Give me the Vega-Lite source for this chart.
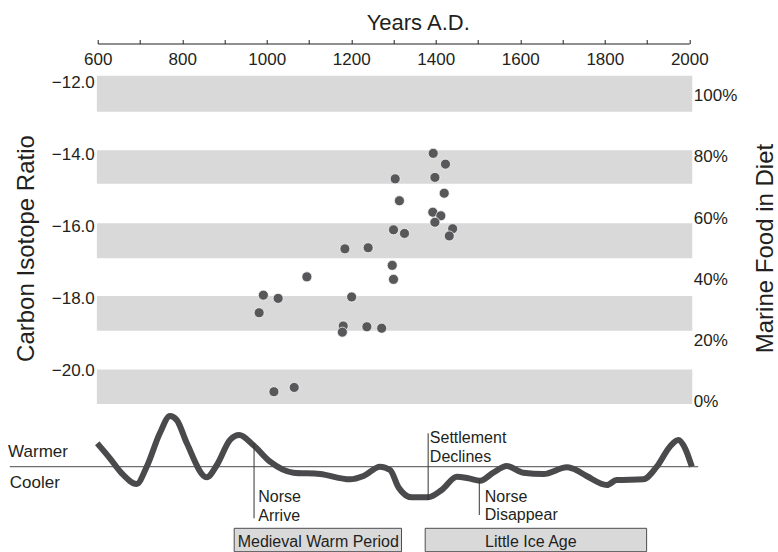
{
  "$schema": "https://vega.github.io/schema/vega-lite/v6.json",
  "width": 591.6,
  "height": 508.5,
  "autosize": {"type": "none"},
  "padding": {"left": 97.7, "top": 43.5, "right": 88.7, "bottom": 0},
  "background": "white",
  "config": {
    "view": {"stroke": null},
    "font": "Liberation Sans",
    "axis": {"labelFont": "Liberation Sans", "titleFont": "Liberation Sans", "labelColor": "#231f20", "titleColor": "#231f20", "titleFontWeight": "normal", "grid": false}
  },
  "datasets": {
    "bands": [
      {"year": 598, "year2": 2007, "top": -11.8, "bottom": -12.8},
      {"year": 598, "year2": 2007, "top": -13.87, "bottom": -14.81},
      {"year": 598, "year2": 2007, "top": -15.91, "bottom": -16.88},
      {"year": 598, "year2": 2007, "top": -17.93, "bottom": -18.9},
      {"year": 598, "year2": 2007, "top": -19.98, "bottom": -20.94}
    ],
    "samples": [
      {"year": 1394, "ratio": -13.96}, {"year": 1423, "ratio": -14.26}, {"year": 1304, "ratio": -14.67},
      {"year": 1398, "ratio": -14.63}, {"year": 1420, "ratio": -15.07}, {"year": 1314, "ratio": -15.28},
      {"year": 1393, "ratio": -15.6}, {"year": 1412, "ratio": -15.7}, {"year": 1398, "ratio": -15.88},
      {"year": 1300, "ratio": -16.09}, {"year": 1326, "ratio": -16.19}, {"year": 1440, "ratio": -16.06},
      {"year": 1432, "ratio": -16.26}, {"year": 1185, "ratio": -16.62}, {"year": 1240, "ratio": -16.59},
      {"year": 1297, "ratio": -17.08}, {"year": 1300, "ratio": -17.47}, {"year": 1095, "ratio": -17.4},
      {"year": 992, "ratio": -17.91}, {"year": 1027, "ratio": -18.0}, {"year": 1201, "ratio": -17.96},
      {"year": 982, "ratio": -18.4}, {"year": 1181, "ratio": -18.77}, {"year": 1179, "ratio": -18.94},
      {"year": 1237, "ratio": -18.79}, {"year": 1272, "ratio": -18.83}, {"year": 1017, "ratio": -20.6},
      {"year": 1065, "ratio": -20.48}
    ],
    "pct": [{"year": 2000, "marine": 0}, {"year": 2000, "marine": 100}],
    "temp": [
      {"year": 599, "t": 2.34}, {"year": 629, "t": 0.84}, {"year": 657, "t": -0.66}, {"year": 692, "t": -1.73},
      {"year": 716, "t": 0.0}, {"year": 747, "t": 3.34}, {"year": 771, "t": 5.07}, {"year": 787, "t": 4.67},
      {"year": 811, "t": 2.34}, {"year": 858, "t": -1.06}, {"year": 882, "t": 0.17}, {"year": 913, "t": 2.67},
      {"year": 935, "t": 3.17}, {"year": 968, "t": 2.17}, {"year": 1008, "t": 0.5}, {"year": 1063, "t": -0.6},
      {"year": 1126, "t": -0.73}, {"year": 1197, "t": -1.26}, {"year": 1229, "t": -0.93}, {"year": 1268, "t": 0.0},
      {"year": 1292, "t": -0.33}, {"year": 1312, "t": -2.08}, {"year": 1343, "t": -3.06}, {"year": 1382, "t": -3.06},
      {"year": 1414, "t": -2.33}, {"year": 1450, "t": -1.0}, {"year": 1477, "t": -1.16}, {"year": 1505, "t": -1.4},
      {"year": 1536, "t": -0.6}, {"year": 1568, "t": 0.07}, {"year": 1607, "t": -0.6}, {"year": 1655, "t": -0.73},
      {"year": 1710, "t": -0.06}, {"year": 1725, "t": -0.2}, {"year": 1757, "t": -0.93}, {"year": 1805, "t": -1.83},
      {"year": 1828, "t": -1.33}, {"year": 1891, "t": -1.26}, {"year": 1923, "t": 0.0}, {"year": 1954, "t": 2.0},
      {"year": 1974, "t": 2.67}, {"year": 1990, "t": 1.84}, {"year": 2006, "t": 0.0}
    ],
    "baseline": [{"year": 392, "year2": 2021, "t": 0}],
    "events": [
      {"year": 970, "t": 2.34, "t2": -5.16},
      {"year": 1382, "t": 3.34, "t2": -3.33},
      {"year": 1503, "t": -1.33, "t2": -4.83}
    ],
    "sideLabels": [
      {"year": 388, "t": 1.5, "label": "Warmer"},
      {"year": 392, "t": -1.66, "label": "Cooler"}
    ],
    "eventLabels": [
      {"year": 980, "t": -3.0, "label": "Norse"},
      {"year": 980, "t": -4.9, "label": "Arrive"},
      {"year": 1386, "t": 2.9, "label": "Settlement"},
      {"year": 1386, "t": 1.0, "label": "Declines"},
      {"year": 1516, "t": -3.0, "label": "Norse"},
      {"year": 1516, "t": -4.83, "label": "Disappear"}
    ],
    "periods": [
      {"year": 923, "year2": 1319, "t": -6.16, "t2": -8.5, "mid": 1122, "label": "Medieval Warm Period"},
      {"year": 1375, "year2": 1899, "t": -6.16, "t2": -8.5, "mid": 1625, "label": "Little Ice Age"}
    ]
  },
  "layer": [
    {
      "data": {"name": "bands"},
      "mark": {"type": "rect", "color": "#d9d9da"},
      "encoding": {
        "x": {
          "field": "year", "type": "quantitative",
          "scale": {"domain": [600, 2000], "nice": false, "zero": false},
          "axis": {
            "orient": "top",
            "title": "Years A.D.",
            "titleFontSize": 22,
            "titleX": 320,
            "titleY": -21.5,
            "titleAlign": "center",
            "titleBaseline": "middle",
            "titleAngle": 0,
            "values": [600, 700, 800, 900, 1000, 1100, 1200, 1300, 1400, 1500, 1600, 1700, 1800, 1900, 2000],
            "format": "d",
            "labelExpr": "datum.value % 200 == 0 ? datum.label : ''",
            "labelFontSize": 17,
            "labelBaseline": "middle",
            "labelPadding": -20.2,
            "labelFlush": false,
            "labelOverlap": false,
            "tickSize": 4,
            "tickColor": "#231f20",
            "domainColor": "#231f20",
            "tickWidth": 1,
            "domainWidth": 1
          }
        },
        "x2": {"field": "year2"},
        "y": {
          "field": "top", "type": "quantitative",
          "scale": {"domain": [-25.064, -10.9], "nice": false, "zero": false},
          "axis": {
            "orient": "left",
            "values": [-12, -14, -16, -18, -20],
            "format": ".1f",
            "ticks": false,
            "domain": false,
            "labelFontSize": 17,
            "labelPadding": 3.4,
            "title": "Carbon Isotope Ratio",
            "titleFontSize": 24,
            "titleAngle": -90,
            "titleX": -71,
            "titleY": 204.5,
            "titleAlign": "center",
            "titleBaseline": "middle"
          }
        },
        "y2": {"field": "bottom"}
      }
    },
    {
      "data": {"name": "samples"},
      "mark": {"type": "point", "filled": true, "color": "#58585a", "opacity": 1, "size": 100, "stroke": "white", "strokeWidth": 0.7},
      "encoding": {
        "x": {"field": "year", "type": "quantitative", "scale": {"domain": [600, 2000], "nice": false, "zero": false}},
        "y": {"field": "ratio", "type": "quantitative", "scale": {"domain": [-25.064, -10.9], "nice": false, "zero": false}, "axis": null}
      }
    },
    {
      "data": {"name": "pct"},
      "mark": {"type": "point", "opacity": 0},
      "encoding": {
        "x": {"field": "year", "type": "quantitative", "scale": {"domain": [600, 2000], "nice": false, "zero": false}},
        "y": {
          "field": "marine", "type": "quantitative",
          "scale": {"domain": [-49.12, 117.06], "nice": false, "zero": false},
          "axis": {
            "orient": "right",
            "values": [0, 20, 40, 60, 80, 100],
            "labelExpr": "datum.value + '%'",
            "ticks": false,
            "domain": false,
            "labelFontSize": 17,
            "labelPadding": 4,
            "title": "Marine Food in Diet",
            "titleFontSize": 24,
            "titleAngle": -90,
            "titleX": 76.5,
            "titleY": 204.5,
            "titleAlign": "center",
            "titleBaseline": "middle"
          }
        }
      }
    },
    {
      "data": {"name": "baseline"},
      "mark": {"type": "rule", "color": "#6d6e70", "strokeWidth": 1.2},
      "encoding": {
        "x": {"field": "year", "type": "quantitative", "scale": {"domain": [600, 2000], "nice": false, "zero": false}},
        "x2": {"field": "year2"},
        "y": {"field": "t", "type": "quantitative", "scale": {"domain": [-8.53, 42.32], "nice": false, "zero": false}, "axis": null}
      }
    },
    {
      "data": {"name": "temp"},
      "mark": {"type": "line", "color": "#4a4a4c", "strokeWidth": 6, "interpolate": "monotone", "strokeJoin": "round", "strokeCap": "butt"},
      "encoding": {
        "x": {"field": "year", "type": "quantitative", "scale": {"domain": [600, 2000], "nice": false, "zero": false}},
        "y": {"field": "t", "type": "quantitative", "scale": {"domain": [-8.53, 42.32], "nice": false, "zero": false}, "axis": null}
      }
    },
    {
      "data": {"name": "events"},
      "mark": {"type": "rule", "color": "#333333", "strokeWidth": 1},
      "encoding": {
        "x": {"field": "year", "type": "quantitative", "scale": {"domain": [600, 2000], "nice": false, "zero": false}},
        "y": {"field": "t", "type": "quantitative", "scale": {"domain": [-8.53, 42.32], "nice": false, "zero": false}, "axis": null},
        "y2": {"field": "t2"}
      }
    },
    {
      "data": {"name": "sideLabels"},
      "mark": {"type": "text", "align": "left", "baseline": "middle", "fontSize": 17, "color": "#231f20", "font": "Liberation Sans"},
      "encoding": {
        "x": {"field": "year", "type": "quantitative", "scale": {"domain": [600, 2000], "nice": false, "zero": false}},
        "y": {"field": "t", "type": "quantitative", "scale": {"domain": [-8.53, 42.32], "nice": false, "zero": false}, "axis": null},
        "text": {"field": "label"}
      }
    },
    {
      "data": {"name": "eventLabels"},
      "mark": {"type": "text", "align": "left", "baseline": "middle", "fontSize": 16, "color": "#231f20", "font": "Liberation Sans"},
      "encoding": {
        "x": {"field": "year", "type": "quantitative", "scale": {"domain": [600, 2000], "nice": false, "zero": false}},
        "y": {"field": "t", "type": "quantitative", "scale": {"domain": [-8.53, 42.32], "nice": false, "zero": false}, "axis": null},
        "text": {"field": "label"}
      }
    },
    {
      "data": {"name": "periods"},
      "mark": {"type": "rect", "fill": "#d9d9da", "stroke": "#4d4d4f", "strokeWidth": 1},
      "encoding": {
        "x": {"field": "year", "type": "quantitative", "scale": {"domain": [600, 2000], "nice": false, "zero": false}},
        "x2": {"field": "year2"},
        "y": {"field": "t", "type": "quantitative", "scale": {"domain": [-8.53, 42.32], "nice": false, "zero": false}, "axis": null},
        "y2": {"field": "t2"}
      }
    },
    {
      "data": {"name": "periods"},
      "mark": {"type": "text", "align": "center", "baseline": "middle", "fontSize": 16, "color": "#231f20", "font": "Liberation Sans"},
      "encoding": {
        "x": {"field": "mid", "type": "quantitative", "scale": {"domain": [600, 2000], "nice": false, "zero": false}},
        "y": {"field": "t2", "type": "quantitative", "scale": {"domain": [-8.53, 42.32], "nice": false, "zero": false}, "axis": null},
        "yOffset": {"value": -9.5},
        "text": {"field": "label"}
      }
    }
  ],
  "resolve": {"scale": {"y": "independent"}}
}
